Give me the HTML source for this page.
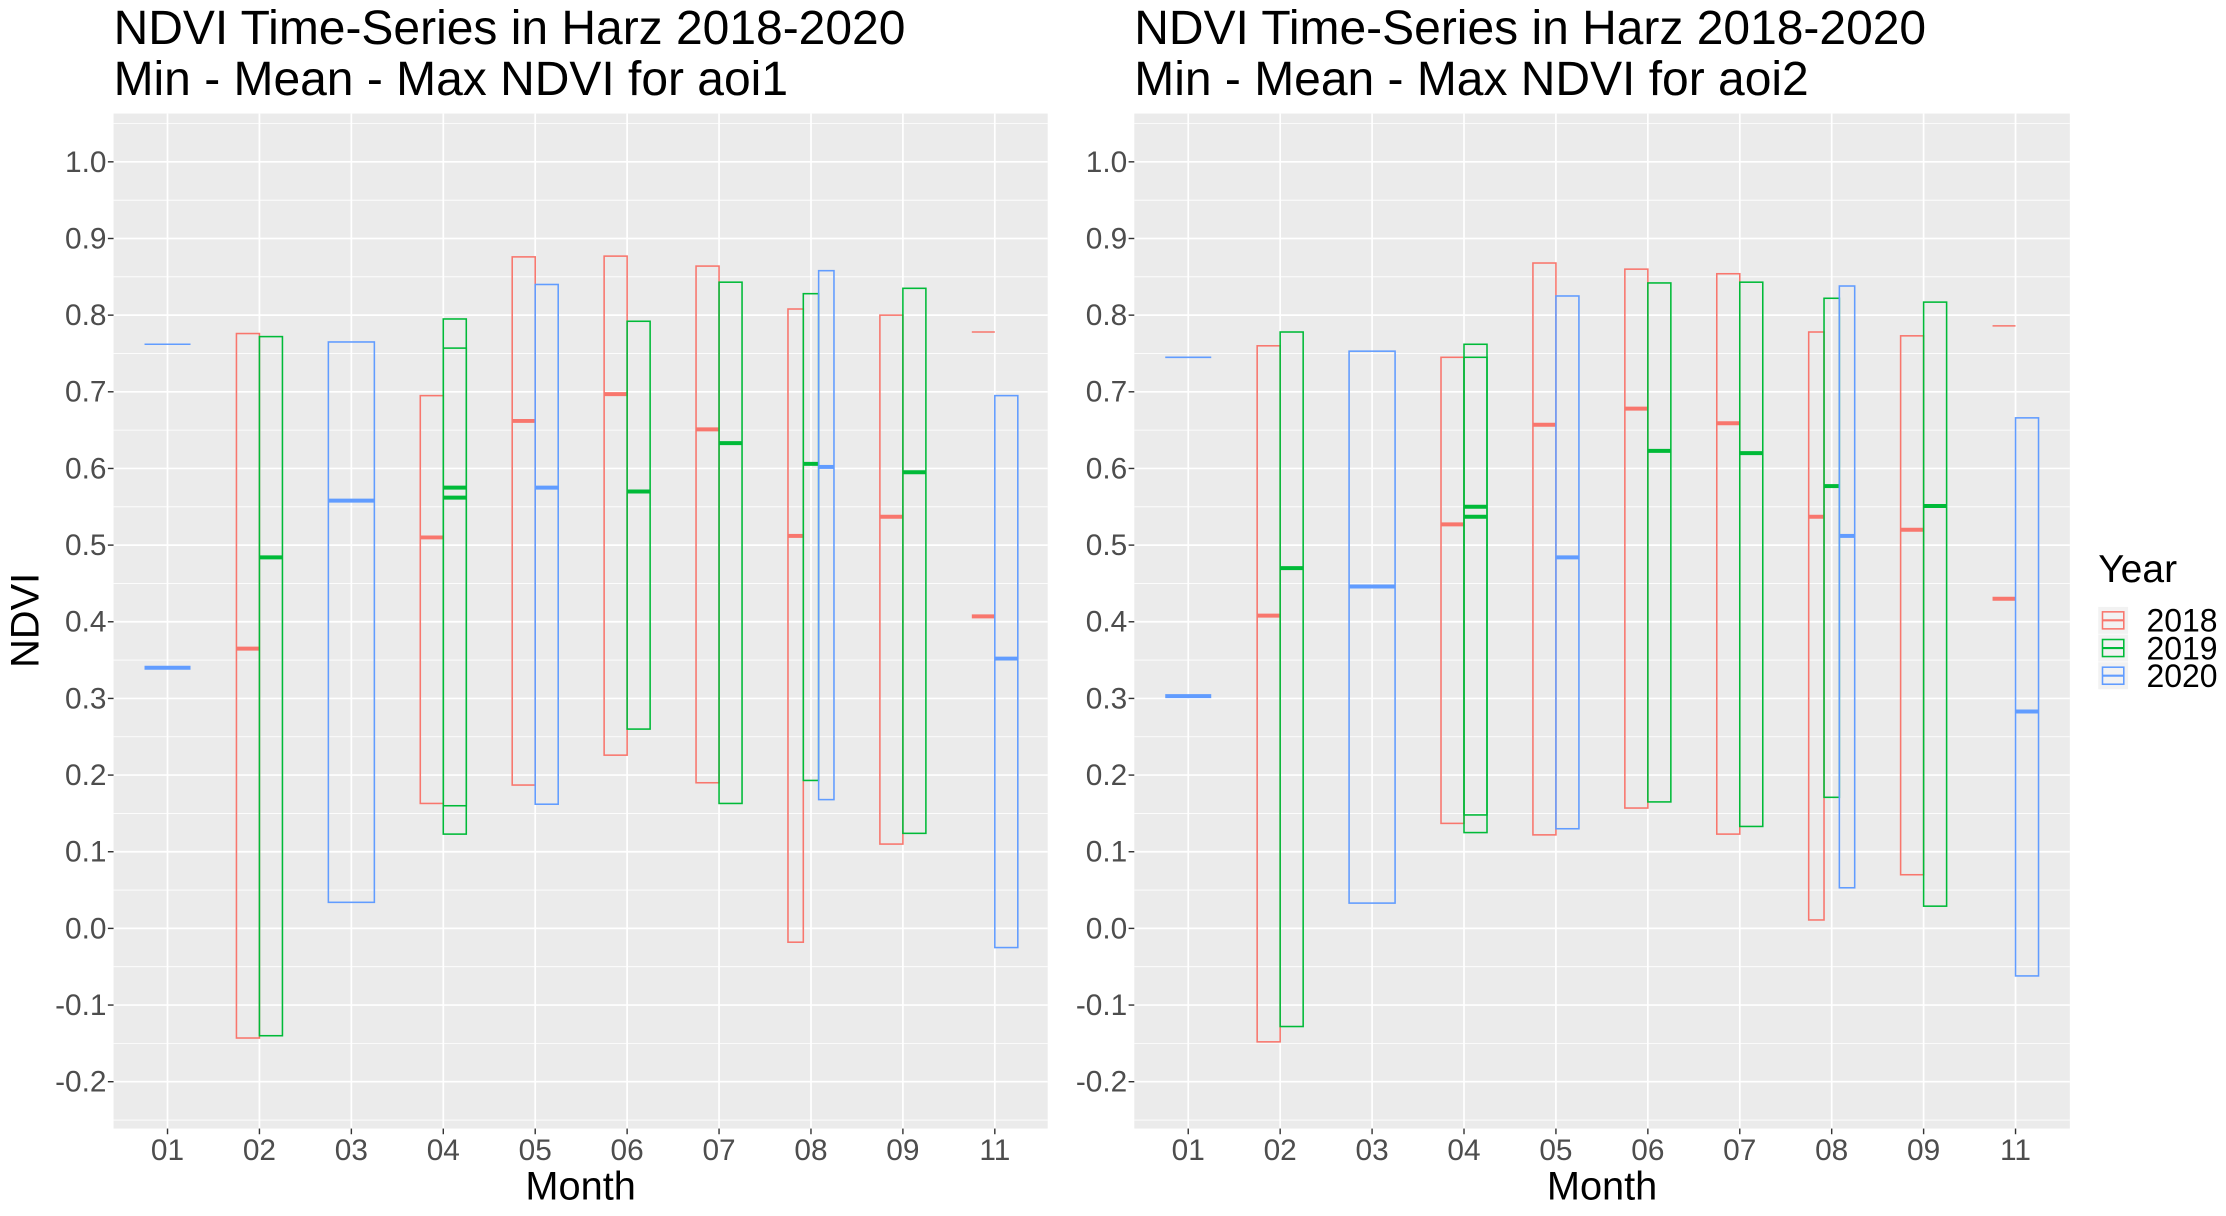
<!DOCTYPE html>
<html><head><meta charset="utf-8"><style>
html,body{margin:0;padding:0;background:#fff;}
svg{display:block;font-family:"Liberation Sans",Arial,sans-serif;}
</style></head><body>
<svg id="chart" width="2226" height="1216" viewBox="0 0 1568 856.6" preserveAspectRatio="none" xmlns="http://www.w3.org/2000/svg"></svg>
<script>
const months = ["01","02","03","04","05","06","07","08","09","11"];
const years = ["2018","2019","2020"];
const colors = {"2018":"#F8766D","2019":"#00BA38","2020":"#619CFF"};
const yTicks = [-0.2,-0.1,0.0,0.1,0.2,0.3,0.4,0.5,0.6,0.7,0.8,0.9,1.0];
// each entry: [monthIndex, year, slot, slotsInMonth, max, mean, min(null = no box)]
const aoi1Bars = [
 [0,"2020",0,1,0.762,0.34,null],
 [1,"2018",0,2,0.776,0.365,-0.143],[1,"2019",1,2,0.772,0.484,-0.14],
 [2,"2020",0,1,0.765,0.558,0.034],
 [3,"2018",0,2,0.695,0.51,0.163],[3,"2019",1,2,0.795,0.575,0.123],[3,"2019",1,2,0.757,0.562,0.160],
 [4,"2018",0,2,0.876,0.662,0.187],[4,"2020",1,2,0.84,0.575,0.162],
 [5,"2018",0,2,0.877,0.697,0.226],[5,"2019",1,2,0.792,0.57,0.26],
 [6,"2018",0,2,0.864,0.651,0.19],[6,"2019",1,2,0.843,0.633,0.163],
 [7,"2018",0,3,0.808,0.512,-0.018],[7,"2019",1,3,0.828,0.606,0.193],[7,"2020",2,3,0.858,0.602,0.168],
 [8,"2018",0,2,0.80,0.537,0.11],[8,"2019",1,2,0.835,0.595,0.124],
 [9,"2018",0,2,0.778,0.407,null],[9,"2020",1,2,0.695,0.352,-0.025]
];
const aoi2Bars = [
 [0,"2020",0,1,0.745,0.303,null],
 [1,"2018",0,2,0.76,0.408,-0.148],[1,"2019",1,2,0.778,0.47,-0.128],
 [2,"2020",0,1,0.753,0.446,0.033],
 [3,"2018",0,2,0.745,0.527,0.137],[3,"2019",1,2,0.762,0.55,0.125],[3,"2019",1,2,0.745,0.537,0.148],
 [4,"2018",0,2,0.868,0.657,0.122],[4,"2020",1,2,0.825,0.484,0.13],
 [5,"2018",0,2,0.86,0.678,0.157],[5,"2019",1,2,0.842,0.623,0.165],
 [6,"2018",0,2,0.854,0.659,0.123],[6,"2019",1,2,0.843,0.62,0.133],
 [7,"2018",0,3,0.778,0.537,0.011],[7,"2019",1,3,0.822,0.577,0.171],[7,"2020",2,3,0.838,0.512,0.053],
 [8,"2018",0,2,0.773,0.52,0.07],[8,"2019",1,2,0.817,0.551,0.029],
 [9,"2018",0,2,0.786,0.43,null],[9,"2020",1,2,0.666,0.283,-0.062]
];
const NS="http://www.w3.org/2000/svg";
const svg=document.getElementById("chart");
function el(tag,attrs,parent,text){const e=document.createElementNS(NS,tag);for(const k in attrs)e.setAttribute(k,attrs[k]);if(text!==undefined)e.textContent=text;(parent||svg).appendChild(e);return e;}
const Y0=654, PXU=540;
function yS(v){return Y0-v*PXU;}
function panel(x0,x1,firstX,bars,title2,name){
  const g=el("g",{});
  
  
  const step=64.75;
  const xS=i=>firstX+i*step;
  const bg=el("rect",{x:x0,y:80,width:x1-x0,height:715,fill:"#EBEBEB"},g);
  
  
  for(let v=-0.25;v<=1.06;v+=0.1){el("line",{x1:x0,x2:x1,y1:yS(v),y2:yS(v),stroke:"#fff","stroke-width":0.6},g);}
  yTicks.forEach(v=>{
    el("line",{x1:x0,x2:x1,y1:yS(v),y2:yS(v),stroke:"#fff","stroke-width":1.2},g);
    el("line",{x1:x0-4,x2:x0,y1:yS(v),y2:yS(v),stroke:"#333","stroke-width":1},g);
    const t=el("text",{x:x0-5,y:yS(v)+7,"text-anchor":"end","font-size":21,fill:"#4D4D4D"},g,v.toFixed(1));
    
    
  });
  months.forEach((m,i)=>{
    el("line",{x1:xS(i),x2:xS(i),y1:80,y2:795,stroke:"#fff","stroke-width":1.2},g);
    el("line",{x1:xS(i),x2:xS(i),y1:795,y2:799,stroke:"#333","stroke-width":1},g);
    const t=el("text",{x:xS(i),y:817,"text-anchor":"middle","font-size":21,fill:"#4D4D4D"},g,m);
    
    
  });
  const W=32.4;
  bars.forEach(b=>{
    const [mi,yr,slot,n,mx,mean,mn]=b;
    const w=W/n, left=xS(mi)-W/2+slot*w, c=colors[yr];
    const bg2=el("g",{},g);
    
    
    if(mn===null){
      el("line",{x1:left,x2:left+w,y1:yS(mx),y2:yS(mx),stroke:c,"stroke-width":1.1},bg2);
    } else {
      el("rect",{x:left,y:yS(mx),width:w,height:yS(mn)-yS(mx),fill:"none",stroke:c,"stroke-width":1.1},bg2);
    }
    el("line",{x1:left,x2:left+w,y1:yS(mean),y2:yS(mean),stroke:c,"stroke-width":2.8},bg2);
  });
  const t1=el("text",{x:x0,y:31,"font-size":33.8,fill:"#000"},g,"NDVI Time-Series in Harz 2018-2020");
  
  
  const t2=el("text",{x:x0,y:67,"font-size":33.8,fill:"#000"},g,title2);
  
  
  const xt=el("text",{x:(x0+x1)/2,y:845,"text-anchor":"middle","font-size":28,fill:"#000"},g,"Month");
  
  
}
panel(80,738,118,aoi1Bars,"Min - Mean - Max NDVI for aoi1","panel-aoi1");
panel(799,1458,837,aoi2Bars,"Min - Mean - Max NDVI for aoi2","panel-aoi2");
const yt=el("text",{x:0,y:0,transform:"translate(27,437) rotate(-90)","text-anchor":"middle","font-size":28,fill:"#000"},svg,"NDVI");


const lg=el("g",{});


const lt=el("text",{x:1478,y:410,"font-size":27.5,fill:"#000"},lg,"Year");


years.forEach((yr,i)=>{
  const cy=437+i*19.5;
  const e=el("g",{},lg);
  
  
  el("rect",{x:1478,y:cy-9.5,width:21,height:19,fill:"#F2F2F2"},e);
  el("rect",{x:1481,y:cy-6,width:15,height:12,fill:"none",stroke:colors[yr],"stroke-width":1.1},e);
  el("line",{x1:1481,x2:1496,y1:cy,y2:cy,stroke:colors[yr],"stroke-width":1.5},e);
  el("text",{x:1512,y:cy+8,"font-size":22.5,fill:"#000"},e,yr);
});
</script>
</body></html>
